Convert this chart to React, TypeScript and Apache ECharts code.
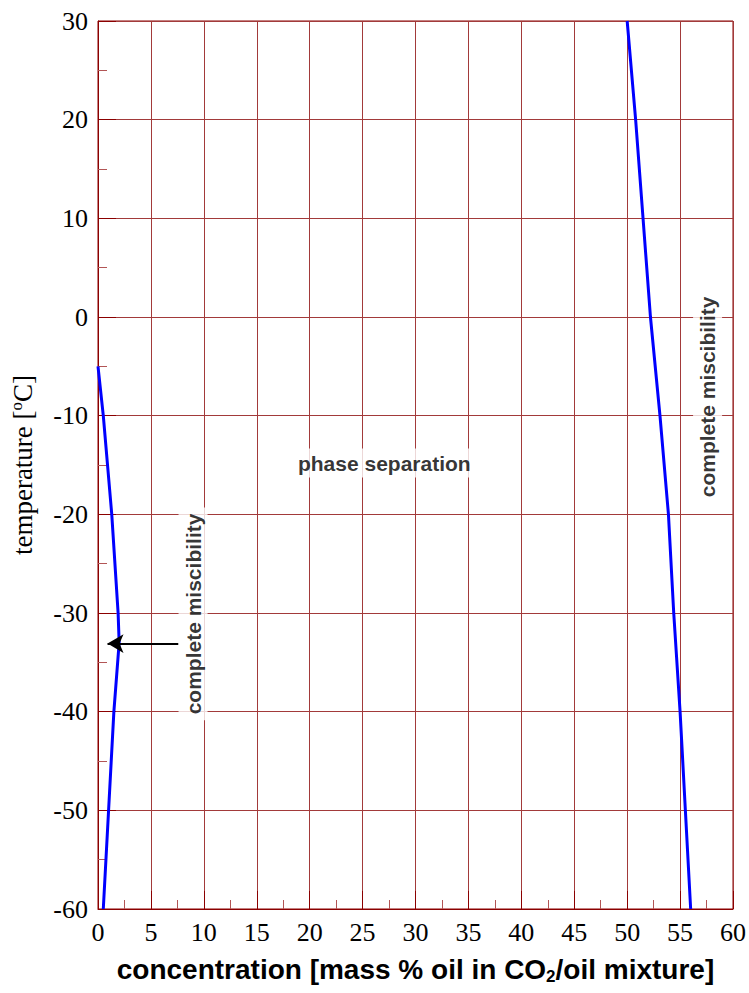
import React, { useEffect, useRef } from "react";
import * as echarts from "echarts";

// concentration [mass % oil] vs temperature [°C]
const leftBoundary: [number, number][] = [
  [0, -5], [0.5, -10], [1.3, -20], [1.9, -30], [2.0, -33], [1.5, -40], [1.0, -50], [0.5, -60],
];
const rightBoundary: [number, number][] = [
  [50, 30], [50.8, 20], [51.5, 10], [52.2, 0], [53.1, -10], [53.9, -20], [54.4, -30], [55.0, -40], [55.5, -50], [56.0, -60],
];
const annotationTexts = ["phase separation", "complete miscibility", "complete miscibility"];
const annotationAnchors: [number, number][] = [[27.05, -14.8], [8.98, -30.1], [57.6, -8.1]];
const annotationRotations = [0, 90, 90];
const arrowFrom: [number, number] = [7.6, -33.1];
const arrowTo: [number, number] = [0.9, -33.1];

const xTicks = { min: 0, max: 60, interval: 5 };
const yTicks = { min: -60, max: 30, interval: 10 };

const DARK_RED = "#8b0000";
const GRID_RED = "#a23a3a";
const MINOR_RED = "#b25555";
const SERIF = "'Liberation Serif', 'Times New Roman', serif";
const SANS = "'Liberation Sans', Arial, sans-serif";

export default function App() {
  const ref = useRef<HTMLDivElement>(null);
  useEffect(() => {
    if (!ref.current) return;
    const chart = echarts.init(ref.current, undefined, { renderer: "svg" });
    const axisCommon = {
      axisLine: { show: true, onZero: false, lineStyle: { color: DARK_RED, width: 1 } },
      axisTick: { show: true, inside: true, length: 18, lineStyle: { color: DARK_RED, width: 1 } },
      minorTick: { show: true, splitNumber: 2, length: 9, lineStyle: { color: MINOR_RED, width: 1 } },
      splitLine: { show: true, lineStyle: { color: GRID_RED, width: 1 } },
      axisLabel: { color: "#000", fontFamily: SERIF, fontSize: 26, margin: 10 },
    };
    chart.setOption({
      animation: false,
      backgroundColor: "#fff",
      grid: { left: 97, top: 21, width: 636, height: 888, show: true, borderColor: DARK_RED, borderWidth: 1 },
      xAxis: {
        type: "value",
        ...xTicks,
        ...axisCommon,
        name: "concentration [mass % oil in CO{sub|2}/oil mixture]",
        nameLocation: "middle",
        nameGap: 44,
        nameTextStyle: {
          color: "#000",
          fontFamily: SANS,
          fontWeight: "bold",
          fontSize: 28,
          lineHeight: 32,
          rich: {
            sub: { fontFamily: SANS, fontWeight: "bold", fontSize: 17, lineHeight: 32, verticalAlign: "bottom", padding: [12, 0, 0, 0] },
          },
        },
      },
      yAxis: {
        type: "value",
        ...yTicks,
        ...axisCommon,
        name: "temperature [{sup|o}C]",
        nameLocation: "middle",
        nameGap: 60,
        nameTextStyle: {
          color: "#000",
          fontFamily: SERIF,
          fontSize: 27,
          lineHeight: 30,
          rich: {
            sup: { fontFamily: SERIF, fontSize: 17, lineHeight: 30, verticalAlign: "top", padding: [0, 0, 10, 0] },
          },
        },
      },
      series: [
        {
          type: "line",
          data: leftBoundary,
          symbol: "none",
          lineStyle: { color: "#0000ff", width: 3 },
          z: 3,
          markLine: {
            silent: true,
            symbol: ["none", "arrow"],
            symbolSize: [14, 16],
            label: { show: false },
            lineStyle: { color: "#000", width: 2, type: "solid" },
            data: [[{ coord: arrowFrom }, { coord: arrowTo }]],
          },
        },
        {
          type: "line",
          data: rightBoundary,
          symbol: "none",
          lineStyle: { color: "#0000ff", width: 3 },
          z: 3,
        },
        {
          type: "scatter",
          symbolSize: 0,
          silent: true,
          z: 5,
          data: annotationTexts.map((t, i) => ({
            value: annotationAnchors[i],
            label: {
              show: true,
              position: "inside",
              formatter: t,
              rotate: annotationRotations[i],
              color: "#000",
              fontFamily: SANS,
              fontWeight: "bold",
              fontSize: 21,
              backgroundColor: "#fff",
              padding: [4, 6, 4, 6],
            },
          })),
        },
      ],
    });
    return () => chart.dispose();
  }, []);
  return <div ref={ref} style={{ position: "fixed", left: 0, top: 0, width: 749, height: 993, background: "#fff" }} />;
}
